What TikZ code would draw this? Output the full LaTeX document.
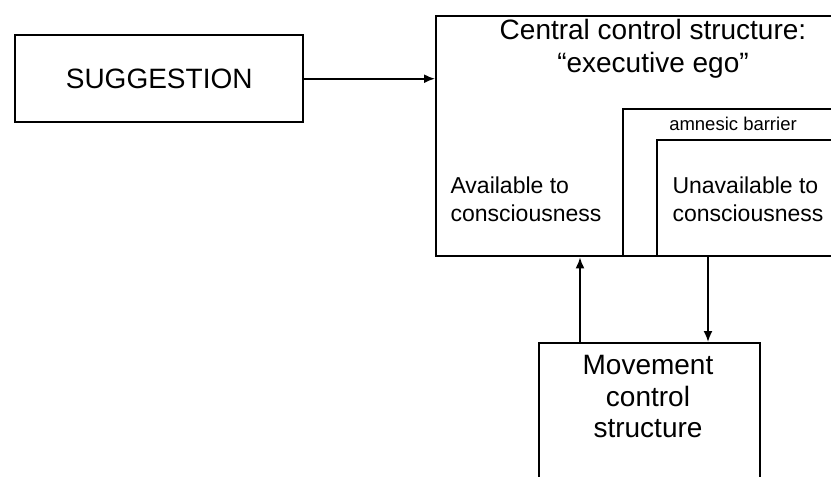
\documentclass[tikz,border=0pt]{standalone}
\usepackage{fontspec}
\setmainfont{Liberation Sans}
\usetikzlibrary{arrows.meta}

\begin{document}
\begin{tikzpicture}[x=1pt,y=-1pt,
	box/.style={draw,line width=2.4pt,inner sep=0pt,anchor=north west},
	conn/.style={line width=1.8pt,-{Latex[length=11pt,width=9pt]}},
	big/.style={font=\fontsize{28}{33}\selectfont},
	mid/.style={font=\fontsize{23}{28}\selectfont,align=left}]
	%Picture is cut off on the right and at the bottom
	\useasboundingbox (0,0) rectangle (831,477);
	\clip (0,0) rectangle (831,477);

	%Input box
	\node[box,big,minimum width=288pt,minimum height=87pt] (sugg) at (14,34) {SUGGESTION};

	%Central control structure with the nested barrier boxes
	\node[box,minimum width=465pt,minimum height=240pt] (central) at (435,15) {};
	\node[box,minimum width=280pt,minimum height=147pt] (barrier) at (622,108) {};
	\node[box,minimum width=246pt,minimum height=116pt] (unavail) at (656,139) {};

	\node[big,align=center] (title) at (653,49) {Central control structure:\\``executive ego''};
	\node[font=\fontsize{18.5}{20}\selectfont] (amn) at (733,124) {amnesic barrier};
	\node[mid,anchor=west] (avtxt) at (447,199) {Available to\\consciousness};
	\node[mid,anchor=west] (untxt) at (669,199) {Unavailable to\\consciousness};

	%Movement box
	\node[box,minimum width=221pt,minimum height=190pt] (move) at (538,342) {};
	\node[big,align=center,font=\fontsize{28}{31.5}\selectfont,anchor=north] (movetxt) at (648,352) {Movement\\control\\structure};

	%Connectors
	\coordinate (upx) at (580,0);
	\coordinate (downx) at (708,0);
	\draw[conn] (sugg.east) -- (sugg.east -| central.west);
	\draw[conn] (move.north -| upx) -- (central.south -| upx);
	\draw[conn] (central.south -| downx) -- (move.north -| downx);
\end{tikzpicture}
\end{document}
